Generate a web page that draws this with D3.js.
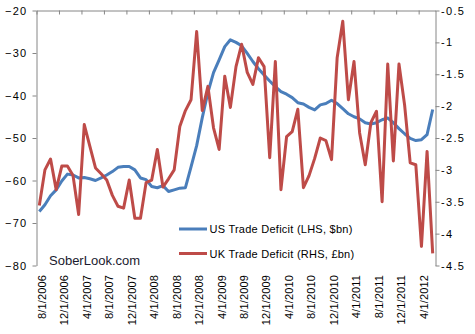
<!DOCTYPE html>
<html><head><meta charset="utf-8">
<script src="https://cdn.jsdelivr.net/npm/d3@7"></script>
<style>
html,body{margin:0;padding:0;background:#fff;}
svg{display:block;font-family:"Liberation Sans",Arial,sans-serif;}
</style></head>
<body><svg id="c" width="475" height="334"></svg>
<script>
// Categories: monthly, 8/1/2006 .. 6/1/2012
const categories = d3.timeMonth.range(new Date(2006,7,1), new Date(2012,6,1)).map(d => (d.getMonth()+1)+"/1/"+d.getFullYear());
const tickLabels = ["8/1/2006","12/1/2006","4/1/2007","8/1/2007","12/1/2007","4/1/2008","8/1/2008","12/1/2008","4/1/2009","8/1/2009","12/1/2009","4/1/2010","8/1/2010","12/1/2010","4/1/2011","8/1/2011","12/1/2011","4/1/2012"];
const usDeficit = [-67.3,-65.7,-63.6,-62.2,-60.1,-58.5,-58.7,-59.4,-59.3,-59.6,-60.0,-59.4,-58.7,-57.9,-56.9,-56.7,-56.7,
  -57.5,-59.4,-59.8,-61.4,-61.7,-61.2,-62.6,-62.2,-61.8,-61.7,-56.8,-51.8,-45.2,-39.3,-34.6,-31.6,-28.5,-26.9,
  -27.5,-28.3,-30.1,-32.0,-33.7,-35.2,-36.6,-37.9,-39.1,-39.7,-40.5,-41.7,-42.0,-42.8,-43.4,-42.2,-41.9,-41.1,
  -41.9,-43.1,-44.3,-45.0,-45.5,-46.4,-46.7,-46.4,-45.7,-45.3,-46.4,-47.8,-49.0,-50.1,-50.6,-50.4,-49.2,-43.3];
const ukDeficit = [-3.56,-3.00,-2.83,-3.31,-2.94,-2.94,-3.09,-3.70,-2.29,-2.63,-2.97,-3.06,-3.16,-3.40,-3.57,-3.60,-3.16,
  -3.76,-3.76,-3.20,-3.16,-2.68,-3.27,-3.14,-3.00,-2.32,-2.07,-1.90,-0.83,-2.07,-1.69,-2.34,-2.68,-1.53,-2.02,
  -1.38,-1.03,-1.47,-1.66,-1.24,-1.38,-2.81,-1.30,-3.31,-2.48,-2.40,-2.05,-3.28,-3.09,-2.82,-2.50,-2.54,-2.84,
  -1.24,-0.67,-1.90,-1.30,-2.42,-2.92,-2.26,-2.08,-3.50,-1.34,-2.86,-1.34,-1.98,-2.89,-2.92,-4.20,-2.71,-4.31];
const leftTicks = [-80,-70,-60,-50,-40,-30,-20];
const rightTicks = [-4.5,-4,-3.5,-3,-2.5,-2,-1.5,-1,-0.5];
const seriesNames = ["US Trade Deficit (LHS, $bn)","UK Trade Deficit (RHS, £bn)"];
const colors = ["#4A7EBB","#BE4B48"];

const svg = d3.select("#c");
const L = 36.5, R = 435.5, T = 10.5, B = 265.5;
const n = categories.length;
const xb = d3.scaleLinear().domain([0,n]).range([L,R]);
const yL = d3.scaleLinear().domain([-80,-20]).range([B,T]);
const yR = d3.scaleLinear().domain([-4.5,-0.5]).range([B,T]);
const axisColor = "#868686";

function styleAxis(g, spacing){
  g.selectAll("path.domain").attr("stroke",axisColor).attr("stroke-width",1);
  g.selectAll(".tick line").attr("stroke",axisColor);
  g.selectAll("text").attr("fill","#000").style("font-size","11px")
   .style("font-family",'"Liberation Sans",Arial,sans-serif').style("letter-spacing",spacing||"0px");
}

// left axis
const gl = svg.append("g").attr("transform",`translate(${L},0)`)
  .call(d3.axisLeft(yL).tickValues(leftTicks).tickSize(4).tickSizeOuter(0).tickPadding(5).tickFormat(d3.format("d")));
styleAxis(gl,"1.3px");
// right axis
const gr = svg.append("g").attr("transform",`translate(${R},0)`)
  .call(d3.axisRight(yR).tickValues(rightTicks).tickSize(4).tickSizeOuter(0).tickPadding(1.5).tickFormat(d => String(d)));
styleAxis(gr,"1.3px");
// top category axis (ticks pointing down)
const topTicks = d3.range(0,n,4);
const gt = svg.append("g").attr("transform",`translate(0,${T})`)
  .call(d3.axisBottom(xb).tickValues(topTicks).tickSize(4).tickSizeOuter(0).tickFormat(""));
styleAxis(gt);
// bottom labels
const gb = svg.append("g").attr("transform",`translate(0,275)`)
  .call(d3.axisBottom(xb).tickValues(topTicks.map(i=>i+0.5)).tickSize(0).tickFormat((d,i)=>tickLabels[i]));
gb.select("path.domain").remove();
gb.selectAll("text").attr("fill","#000").style("font-size","11px").style("letter-spacing","0.15px")
  .attr("text-anchor","end").attr("transform","translate(2,0) rotate(-90)").attr("x",0).attr("y",0).attr("dy","0.35em");

// lines (UK drawn after US, as in the reference)
const lineL = d3.line().x((d,i)=>xb(i+0.5)).y(d=>yL(d));
const lineR = d3.line().x((d,i)=>xb(i+0.5)).y(d=>yR(d));
svg.append("path").datum(usDeficit).attr("d",lineL).attr("fill","none")
  .attr("stroke",colors[0]).attr("stroke-width",3).attr("stroke-linejoin","round");
svg.append("path").datum(ukDeficit).attr("d",lineR).attr("fill","none")
  .attr("stroke",colors[1]).attr("stroke-width",3).attr("stroke-linejoin","round");

// legend
const lg = svg.append("g");
seriesNames.forEach((s,k)=>{
  const yy = 229 + k*24.5;
  lg.append("line").attr("x1",179).attr("x2",207).attr("y1",yy).attr("y2",yy)
    .attr("stroke",colors[k]).attr("stroke-width",3);
  lg.append("text").attr("x",209.5).attr("y",yy+4).text(s).style("font-size","11px")
    .style("letter-spacing","0.25px").attr("fill","#000");
});

// watermark
svg.append("text").attr("x",49).attr("y",265).text("SoberLook.com").style("font-size","13px").attr("fill","#1a1a2e");
</script>
</body></html>
